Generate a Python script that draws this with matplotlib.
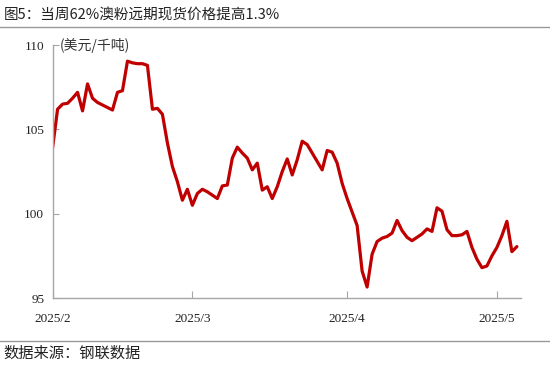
import matplotlib
matplotlib.use("Agg")
import matplotlib.pyplot as plt
import pandas as pd

# 62%澳粉远期现货价格（美元/千吨）
start = "2025-02-01"
day_offset = list(range(0, 94))
price = [
    103.9, 106.2, 106.5, 106.55, 106.85, 107.2, 106.1, 107.7, 106.85, 106.6,
    106.45, 106.3, 106.15, 107.2, 107.3, 109.05, 108.95, 108.9, 108.9, 108.8,
    106.2, 106.25, 105.9, 104.2, 102.8, 101.9, 100.8, 101.45, 100.5, 101.2,
    101.45, 101.3, 101.1, 100.9, 101.65, 101.7, 103.3, 103.95, 103.6, 103.3,
    102.6, 103.0, 101.4, 101.6, 100.9, 101.6, 102.5, 103.25, 102.3, 103.2,
    104.3, 104.1, 103.6, 103.1, 102.6, 103.75, 103.65, 103.0, 101.8, 100.9,
    100.1, 99.3, 96.6, 95.65, 97.6, 98.35, 98.55, 98.65, 98.85, 99.6,
    99.0, 98.6, 98.4, 98.6, 98.8, 99.1, 98.95, 100.35, 100.15, 99.05,
    98.7, 98.7, 98.75, 98.95, 98.0, 97.3, 96.8, 96.9, 97.5, 98.0,
    98.7, 99.55, 97.75, 98.05,
]
tick_dates = ["2025-02-01", "2025-03-01", "2025-04-01", "2025-05-01"]
tick_labels = ["2025/2", "2025/3", "2025/4", "2025/5"]
y_ticks = [95, 100, 105, 110]

dates = pd.Timestamp(start) + pd.to_timedelta(day_offset, unit="D")

cjk = ["Noto Sans CJK SC", "DejaVu Sans"]
serif = ["Liberation Serif", "DejaVu Serif"]
grey = "#A6A6A6"

fig = plt.figure(figsize=(5.5, 3.67), dpi=100)
ax = fig.add_axes([0.0956, 0.188, 0.851, 0.689])

ax.plot(dates, price, color="#C00000", lw=2.3, solid_joinstyle="round",
        solid_capstyle="round")

ax.set_ylim(95, 110)
ax.set_xlim(pd.Timestamp("2025-02-01"), pd.Timestamp("2025-05-05 18:00"))
ax.set_yticks(y_ticks)
ax.set_yticklabels([str(v) for v in y_ticks], family=serif, fontsize=9.5)
ax.set_xticks(pd.to_datetime(tick_dates))
ax.set_xticklabels(tick_labels, family=serif, fontsize=9.5)

for s in ["top", "right"]:
    ax.spines[s].set_visible(False)
for s in ["left", "bottom"]:
    ax.spines[s].set_color(grey)
    ax.spines[s].set_linewidth(1.0)
ax.tick_params(axis="y", direction="in", length=4, color=grey, pad=6,
               labelcolor="#222222")
ax.tick_params(axis="x", direction="in", length=5, color=grey, pad=11,
               labelcolor="#222222")

# 单位
fig.text(0.108, 0.877, "(美元/千吨)", family=cjk, fontsize=10,
         color="#333333", va="center", ha="left")

# 标题与来源
fig.text(0.006, 0.958, "图5：当周62%澳粉远期现货价格提高1.3%", family=cjk,
         fontsize=10.5, color="#222222", va="center", ha="left",
         fontweight="medium")
fig.add_artist(plt.Line2D([0, 1], [0.926, 0.926], transform=fig.transFigure,
                          color="#999999", lw=1.0))
fig.add_artist(plt.Line2D([0, 1], [0.071, 0.071], transform=fig.transFigure,
                          color="#999999", lw=1.0))
fig.text(0.006, 0.038, "数据来源：钢联数据", family=cjk, fontsize=11,
         color="#222222", va="center", ha="left")

fig.savefig("out.png", dpi=100)
